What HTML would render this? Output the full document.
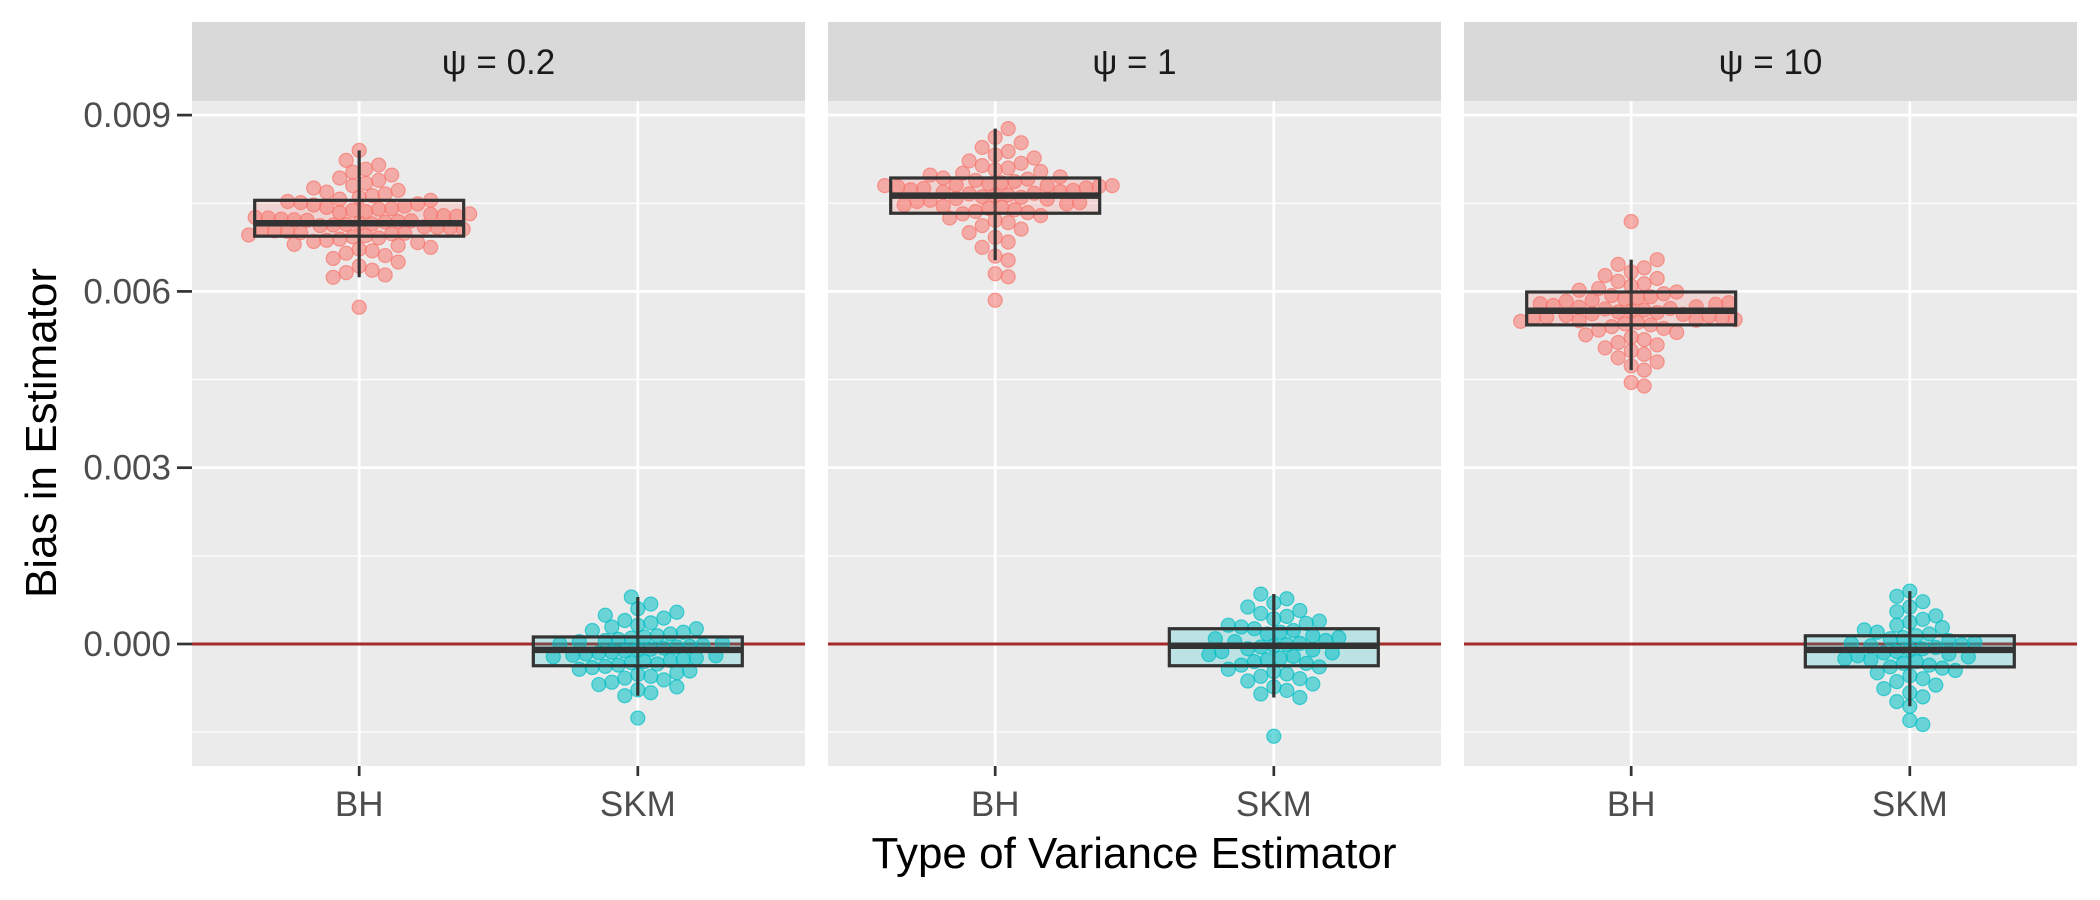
<!DOCTYPE html>
<html><head><meta charset="utf-8"><style>
html,body{margin:0;padding:0;background:#fff;}
svg{display:block;font-family:"Liberation Sans",sans-serif;}
</style></head><body>
<svg id="chart" width="2100" height="900" viewBox="0 0 2100 900">
<rect width="2100" height="900" fill="#fff"/>
<text x="0" y="0" transform="translate(56,433) rotate(-90)" text-anchor="middle" font-size="44" fill="#000">Bias in Estimator</text>
<text x="1134" y="868" text-anchor="middle" font-size="44" fill="#000">Type of Variance Estimator</text>
</svg>
<script>
const facetLabels = ["ψ = 0.2", "ψ = 1", "ψ = 10"];
const categories = ["BH", "SKM"];
const yTicks = [0, 0.003, 0.006, 0.009];
const yTickLabels = ["0.000", "0.003", "0.006", "0.009"];
const refLine = 0;
const q1 = [[0.00694, -0.00037], [0.00733, -0.00037], [0.00543, -0.00039]];
const med = [[0.00716, -0.00010], [0.00763, -0.00003], [0.00567, -0.00010]];
const q3 = [[0.00755, 0.00012], [0.00793, 0.00026], [0.00599, 0.00014]];
const whiskLo = [[0.00624, -0.00088], [0.00653, -0.00091], [0.00466, -0.00106]];
const whiskHi = [[0.00840, 0.00080], [0.00877, 0.00085], [0.00654, 0.00090]];
const bh1 = [57.3,62.4,62.8,63.2,63.6,64.3,65.0,65.6,66.1,66.5,66.9,67.2,67.5,67.8,68.0,68.3,68.5,68.7,68.9,69.1,69.3,69.5,69.6,69.8,69.9,70.0,70.2,70.3,70.5,70.6,70.8,70.9,71.0,71.2,71.3,71.4,71.5,71.6,71.8,71.9,72.0,72.1,72.2,72.3,72.5,72.6,72.8,72.9,73.1,73.2,73.4,73.6,73.8,74.0,74.1,74.3,74.5,74.7,74.9,75.1,75.3,75.5,75.7,76.0,76.3,76.6,76.9,77.2,77.6,78.0,78.4,78.9,79.3,79.8,80.3,80.8,81.5,82.3,84.0];
const bh2 = [58.5,62.5,63.0,65.3,66.0,67.5,68.4,69.2,70.0,70.6,71.2,71.7,72.1,72.5,72.9,73.2,73.4,73.6,73.9,74.1,74.3,74.5,74.7,74.9,75.1,75.3,75.5,75.7,75.8,76.0,76.1,76.3,76.4,76.6,76.7,76.9,77.0,77.2,77.3,77.5,77.6,77.8,77.9,78.0,78.0,78.0,78.1,78.3,78.5,78.7,78.9,79.1,79.3,79.5,79.8,80.1,80.4,80.7,81.0,81.4,81.8,82.2,82.7,83.2,83.8,84.5,85.3,86.2,87.7];
const bh3 = [43.9,44.5,46.6,47.3,48.0,48.7,49.3,49.9,50.4,50.9,51.3,51.8,52.2,52.6,53.0,53.4,53.7,54.0,54.3,54.5,54.7,54.9,55.0,55.1,55.2,55.4,55.5,55.6,55.8,55.9,56.1,56.2,56.4,56.5,56.7,56.8,57.0,57.1,57.3,57.4,57.6,57.8,57.9,58.1,58.3,58.5,58.7,58.9,59.1,59.3,59.6,59.9,60.2,60.5,60.9,61.3,61.7,62.2,62.7,63.3,64.0,64.6,65.4,71.9];
const skm1 = [-12.6,-8.8,-8.3,-7.8,-7.3,-6.9,-6.5,-6.1,-5.8,-5.5,-5.2,-4.9,-4.6,-4.3,-4.0,-3.8,-3.6,-3.4,-3.2,-3.0,-2.8,-2.6,-2.4,-2.2,-2.0,-1.9,-1.7,-1.5,-1.4,-1.2,-1.0,-0.9,-0.7,-0.5,-0.4,-0.2,0.0,0.2,0.4,0.6,0.8,1.0,1.2,1.4,1.7,2.0,2.3,2.6,2.9,3.2,3.6,4.0,4.4,4.9,5.4,6.0,6.8,8.0];
const skm2 = [-15.7,-9.1,-8.5,-7.9,-7.3,-6.8,-6.3,-5.9,-5.5,-5.1,-4.7,-4.3,-3.9,-3.6,-3.3,-3.0,-2.7,-2.4,-2.1,-1.8,-1.5,-1.3,-1.0,-0.8,-0.5,-0.3,-0.1,0.1,0.4,0.6,0.9,1.1,1.4,1.7,2.0,2.3,2.6,2.9,3.2,3.5,3.9,4.3,4.7,5.2,5.7,6.3,7.0,7.7,8.5];
const skm3 = [-13.7,-13.0,-10.6,-9.8,-9.0,-8.3,-7.6,-7.0,-6.4,-5.9,-5.4,-4.9,-4.5,-4.1,-3.9,-3.6,-3.3,-3.0,-2.7,-2.5,-2.2,-2.0,-1.7,-1.5,-1.3,-1.0,-0.8,-0.6,-0.3,-0.1,0.1,0.3,0.6,0.9,1.1,1.4,1.7,2.0,2.4,2.8,3.2,3.7,4.2,4.8,5.5,6.3,7.2,8.1,9.0];
const points = [[bh1, skm1], [bh2, skm2], [bh3, skm3]];

const NS = "http://www.w3.org/2000/svg";
const svg = document.getElementById("chart");
const panelX = [192, 828, 1464], panelW = 613, panelTop = 101, panelBot = 766, stripTop = 22;
function yScale(v){ return 644 - v / 0.003 * 176.3; }
function xScale(p, c){ return panelX[p] + (c + 1 - 0.4) / 2.2 * panelW; }
const unitW = panelW / 2.2;
const colors = ["#F8766D", "#00BFC4"];
function mk(tag, attrs, parent){ const e = document.createElementNS(NS, tag); for (const k in attrs) e.setAttribute(k, attrs[k]); (parent||svg).appendChild(e); return e; }

for (let p = 0; p < 3; p++) {
  const g = mk("g", {});
  
  
  const strip = mk("rect", {x: panelX[p], y: stripTop, width: panelW, height: panelTop - stripTop, fill: "#D9D9D9"}, g);
  
  
  const st = mk("text", {x: panelX[p] + panelW / 2, y: 74, "text-anchor": "middle", "font-size": "35", fill: "#1A1A1A"}, g);
  st.textContent = facetLabels[p];
  
  
  const bg = mk("rect", {x: panelX[p], y: panelTop, width: panelW, height: panelBot - panelTop, fill: "#EBEBEB"}, g);
  
  
  [-0.0015, 0.0015, 0.0045, 0.0075].forEach(v => {
    const l = mk("line", {x1: panelX[p], x2: panelX[p] + panelW, y1: yScale(v), y2: yScale(v), stroke: "#fff", "stroke-width": 1.3}, g);
    
    
  });
  yTicks.forEach(v => {
    const l = mk("line", {x1: panelX[p], x2: panelX[p] + panelW, y1: yScale(v), y2: yScale(v), stroke: "#fff", "stroke-width": 2.7}, g);
    
    
  });
  categories.forEach((c, ci) => {
    const x = xScale(p, ci);
    const l = mk("line", {x1: x, x2: x, y1: panelTop, y2: panelBot, stroke: "#fff", "stroke-width": 2.7}, g);
    
    
    const t = mk("line", {x1: x, x2: x, y1: panelBot, y2: panelBot + 10, stroke: "#333", "stroke-width": 2.7}, g);
    
    
    const lb = mk("text", {x: x, y: panelBot + 50, "text-anchor": "middle", "font-size": "35", fill: "#4D4D4D"}, g);
    lb.textContent = c;
    
    
  });
  const rl = mk("line", {x1: panelX[p], x2: panelX[p] + panelW, y1: yScale(refLine), y2: yScale(refLine), stroke: "#A52A2A", "stroke-width": 3}, g);
  
  

  categories.forEach((c, ci) => {
    const cx = xScale(p, ci);
    const vals = points[p][ci].map(v => v * 1e-4);
    const order = vals.map((v, i) => i).sort((a, b) => Math.abs(vals[a] - med[p][ci]) - Math.abs(vals[b] - med[p][ci]));
    const placed = [];
    const d = 13;
    order.forEach(i => {
      const py = yScale(vals[i]);
      let k = 0, px = 0;
      while (true) {
        const off = (k === 0 ? 0 : (k % 2 ? 1 : -1) * Math.ceil(k / 2)) * d * 0.5;
        const cand = cx + off;
        if (placed.every(q => (q[0] - cand) ** 2 + (q[1] - py) ** 2 >= d * d)) { px = cand; break; }
        k++;
        if (k > 80) { px = cand; break; }
      }
      placed.push([px, py]);
      const dot = mk("circle", {cx: px, cy: py, r: 7, fill: colors[ci], "fill-opacity": 0.55, stroke: colors[ci], "stroke-opacity": 0.7, "stroke-width": 1.2}, g);
      
      
    });
    const bw = unitW * 0.75;
    const wl = mk("line", {x1: cx, x2: cx, y1: yScale(whiskHi[p][ci]), y2: yScale(whiskLo[p][ci]), stroke: "#333", "stroke-width": 3.2}, g);
    
    
    const box = mk("rect", {x: cx - bw / 2, y: yScale(q3[p][ci]), width: bw, height: yScale(q1[p][ci]) - yScale(q3[p][ci]), fill: colors[ci], "fill-opacity": 0.2, stroke: "#333", "stroke-width": 3.2}, g);
    
    
    const ml = mk("line", {x1: cx - bw / 2, x2: cx + bw / 2, y1: yScale(med[p][ci]), y2: yScale(med[p][ci]), stroke: "#333", "stroke-width": 6.5}, g);
    
    
  });
}
yTicks.forEach((v, i) => {
  const t = mk("line", {x1: 177, x2: 192, y1: yScale(v), y2: yScale(v), stroke: "#333", "stroke-width": 2.7});
  
  
  const lb = mk("text", {x: 171, y: yScale(v) + 12, "text-anchor": "end", "font-size": "35", fill: "#4D4D4D"});
  lb.textContent = yTickLabels[i];
  
  
});
</script>
</body></html>
